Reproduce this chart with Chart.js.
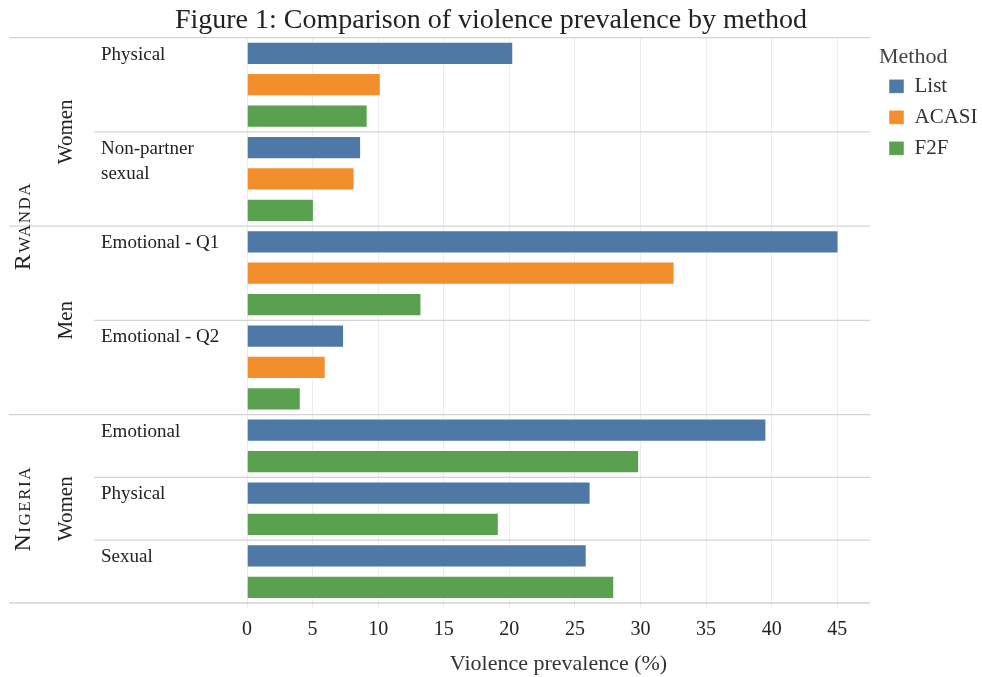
<!DOCTYPE html>
<html>
<head>
<meta charset="utf-8">
<title>Violence prevalence by method</title>
<script src="https://cdn.jsdelivr.net/npm/chart.js@4.4.1/dist/chart.umd.min.js"></script>
<style>
  html, body { margin: 0; padding: 0; background: #fff; }
  #wrap { width: 982px; height: 677px; }
</style>
</head>
<body>
<div id="wrap"><canvas id="chart" width="982" height="677"></canvas></div>
<script>
const SERIF = "'Liberation Serif', 'DejaVu Serif', serif";

// one entry per survey question, top to bottom
const questions = ['Physical', 'Non-partner\nsexual', 'Emotional - Q1', 'Emotional - Q2', 'Emotional', 'Physical', 'Sexual'];
const questionCountry = ['Rwanda', 'Rwanda', 'Rwanda', 'Rwanda', 'Nigeria', 'Nigeria', 'Nigeria'];
const questionSex = ['Women', 'Women', 'Men', 'Men', 'Women', 'Women', 'Women'];

const methods = ['List', 'ACASI', 'F2F'];
const methodColors = ['#4e79a7', '#f28e2b', '#59a14f'];

// prevalence (%) per question; null = method not asked
const listValues  = [20.3, 8.7, 45.1, 7.4, 39.6, 26.2, 25.9];
const acasiValues = [10.2, 8.2, 32.6, 6.0, null, null, null];
const f2fValues   = [9.2, 5.1, 13.3, 4.1, 29.9, 19.2, 28.0];
const seriesValues = [listValues, acasiValues, f2fValues];

const xMax = 47.5;
const xStep = 5;

// one category row per bar
const rows = [];
questions.forEach((q, qi) => {
  seriesValues.forEach((vals, mi) => {
    if (vals[qi] !== null) rows.push({ qi, mi });
  });
});
const rowLabels = rows.map(r => questions[r.qi] + ' / ' + methods[r.mi]);

const datasets = methods.map((m, mi) => ({
  label: m,
  data: rows.map(r => (r.mi === mi ? seriesValues[mi][r.qi] : null)),
  backgroundColor: methodColors[mi],
  borderColor: 'rgba(255,255,255,0.45)',
  borderWidth: 1,
  barPercentage: 0.74,
  categoryPercentage: 1,
  skipNull: true
}));

function drawSmallCaps(ctx, text, bigSize, smallSize) {
  const first = text[0];
  const rest = text.slice(1).toUpperCase();
  ctx.letterSpacing = '1.5px';
  ctx.font = bigSize + 'px ' + SERIF;
  const w1 = ctx.measureText(first).width;
  ctx.font = smallSize + 'px ' + SERIF;
  const w2 = ctx.measureText(rest).width;
  let x = -(w1 + w2) / 2;
  ctx.textAlign = 'left';
  ctx.font = bigSize + 'px ' + SERIF;
  ctx.fillText(first, x, 0);
  ctx.font = smallSize + 'px ' + SERIF;
  ctx.fillText(rest, x + w1, 0);
}

function rotated(ctx, x, y, fn) {
  ctx.save();
  ctx.translate(x, y);
  ctx.rotate(-Math.PI / 2);
  fn();
  ctx.restore();
}

// separators and the country / sex / question labels down the left side
const sideLabels = {
  id: 'sideLabels',
  beforeDatasetsDraw(chart) {
    const { ctx, chartArea, scales: { y } } = chart;
    const band = y.getPixelForValue(1) - y.getPixelForValue(0);
    const rowTop = i => y.getPixelForValue(i) - band / 2;

    const spans = questions.map((q, qi) => {
      const idx = rows.map((r, i) => (r.qi === qi ? i : -1)).filter(i => i >= 0);
      return { top: rowTop(idx[0]), bottom: rowTop(idx[idx.length - 1]) + band };
    });

    ctx.save();
    ctx.strokeStyle = '#d3d3d3';
    ctx.lineWidth = 1.3;
    spans.forEach((s, qi) => {
      const newBlock = qi === 0 ||
        questionSex[qi] !== questionSex[qi - 1] ||
        questionCountry[qi] !== questionCountry[qi - 1];
      ctx.beginPath();
      ctx.moveTo(newBlock ? 9 : 94, s.top);
      ctx.lineTo(chartArea.right, s.top);
      ctx.stroke();
    });
    ctx.beginPath();
    ctx.moveTo(9, spans[spans.length - 1].bottom);
    ctx.lineTo(chartArea.right, spans[spans.length - 1].bottom);
    ctx.stroke();

    // question names
    ctx.fillStyle = '#222';
    ctx.font = '19px ' + SERIF;
    ctx.textAlign = 'left';
    ctx.textBaseline = 'alphabetic';
    spans.forEach((s, qi) => {
      questions[qi].split('\n').forEach((line, li) => {
        ctx.fillText(line, 101, s.top + 22 + li * 25);
      });
    });

    // sex blocks and countries, rotated
    const blockSpan = key => {
      const out = [];
      questions.forEach((q, qi) => {
        const k = key(qi);
        const last = out[out.length - 1];
        if (last && last.key === k) last.bottom = spans[qi].bottom;
        else out.push({ key: k, label: k.split('|').pop(), top: spans[qi].top, bottom: spans[qi].bottom });
      });
      return out;
    };

    blockSpan(qi => questionCountry[qi] + '|' + questionSex[qi]).forEach(b => {
      rotated(ctx, 72, (b.top + b.bottom) / 2, () => {
        ctx.font = '21px ' + SERIF;
        ctx.textAlign = 'center';
        ctx.fillText(b.label, 0, 0);
      });
    });
    blockSpan(qi => questionCountry[qi]).forEach(b => {
      rotated(ctx, 30, (b.top + b.bottom) / 2, () => drawSmallCaps(ctx, b.label, 24, 17));
    });
    ctx.restore();
  }
};

new Chart(document.getElementById('chart'), {
  type: 'bar',
  data: { labels: rowLabels, datasets },
  options: {
    indexAxis: 'y',
    responsive: false,
    animation: false,
    devicePixelRatio: 1,
    layout: { padding: { left: 0, right: 0, top: 0, bottom: 0 } },
    scales: {
      x: {
        min: 0,
        max: xMax,
        border: { display: false },
        grid: { color: '#ececec', lineWidth: 1, tickLength: 5 },
        ticks: {
          stepSize: xStep,
          includeBounds: false,
          padding: 10,
          color: '#222',
          font: { family: SERIF, size: 20 }
        },
        title: {
          display: true,
          text: 'Violence prevalence (%)',
          color: '#333',
          font: { family: SERIF, size: 22 },
          padding: { top: 0, bottom: 0 }
        },
        afterFit(s) { s.height = 74; }
      },
      y: {
        position: 'left',
        ticks: { display: false },
        grid: { display: false },
        border: { display: false },
        afterFit(s) { s.width = 247; }
      },
      gap: {
        type: 'linear',
        position: 'right',
        display: true,
        ticks: { display: false },
        grid: { display: false },
        border: { display: false },
        afterFit(s) { s.width = 9; }
      }
    },
    plugins: {
      title: {
        display: true,
        text: 'Figure 1: Comparison of violence prevalence by method',
        color: '#222',
        font: { family: SERIF, size: 28, weight: 'normal' },
        padding: { top: 4, bottom: 0 }
      },
      legend: {
        position: 'right',
        align: 'start',
        maxWidth: 103,
        title: {
          display: true,
          text: 'Method',
          color: '#444',
          position: 'start',
          font: { family: SERIF, size: 22, lineHeight: 0.9 },
          padding: { top: 46, bottom: 0 }
        },
        labels: {
          boxWidth: 15,
          boxHeight: 14,
          padding: 10,
          color: '#333',
          font: { family: SERIF, size: 21 }
        }
      },
      tooltip: { enabled: false }
    }
  },
  plugins: [sideLabels]
});
</script>
</body>
</html>
